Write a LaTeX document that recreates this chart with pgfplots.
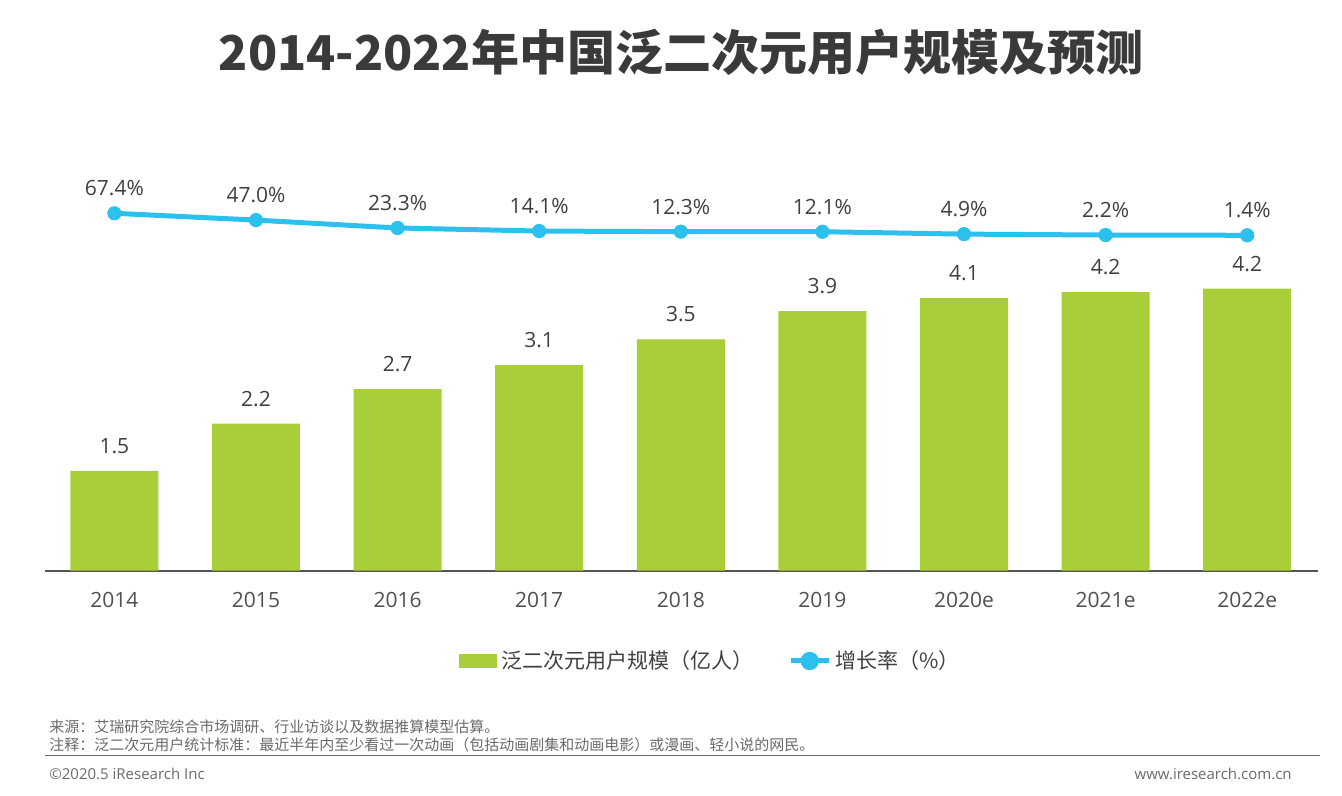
\documentclass[border=0pt]{standalone}
\usepackage{fontspec}
\setmainfont{Open Sans}
\newfontfamily\cjk{Noto Sans CJK SC}
\usepackage{pgfplots}
\usepackage{pgfplotstable}
\pgfplotsset{compat=1.18}
\definecolor{barg}{HTML}{A9CF38}
\definecolor{lineblue}{HTML}{2CC0EE}
\definecolor{titlec}{HTML}{3A3A3A}
\definecolor{labc}{HTML}{404040}
\definecolor{tickc}{HTML}{505050}
\definecolor{axisc}{HTML}{555555}
\definecolor{footc}{HTML}{6A6A6A}

\pgfplotstableread{
x val lab
0 1.50 1.5
1 2.21 2.2
2 2.73 2.7
3 3.09 3.1
4 3.48 3.5
5 3.905 3.9
6 4.10 4.1
7 4.19 4.2
8 4.24 4.2
}\users

\pgfplotstableread{
x g
0 67.4
1 47.0
2 23.3
3 14.1
4 12.3
5 12.1
6 4.9
7 2.2
8 1.4
}\growth

\begin{document}
\begin{tikzpicture}
\path[use as bounding box] (0,0) rectangle (671pt,398pt);

\node[text=titlec, font=\fontsize{24}{29}\selectfont\cjk\bfseries] at (340.5pt,372pt) {2014-2022年中国泛二次元用户规模及预测};

\begin{axis}[
  at={(22.5pt,112.65pt)}, anchor=south west,
  scale only axis, width=636.5pt, height=200pt,
  xmin=-0.49, xmax=8.5, ymin=0, ymax=6.015,
  axis x line*=bottom, axis y line=none,
  x axis line style={draw=axisc, line width=1.1pt, -},
  xtick={0,1,2,3,4,5,6,7,8},
  xticklabels={2014,2015,2016,2017,2018,2019,2020e,2021e,2022e},
  major tick length=0pt,
  xticklabel style={font=\fontsize{10.5}{12}\selectfont, text=tickc, yshift=-7.5pt},
  /pgf/number format/assume math mode=true,
  ybar, bar width=44pt,
  clip=false,
]
\addplot[fill=barg, draw=none,
  point meta=explicit,
  nodes near coords={\pgfmathprintnumber[fixed,fixed zerofill,precision=1,assume math mode=true]{\pgfplotspointmeta}},
  every node near coord/.append style={font=\fontsize{10.5}{12}\selectfont, text=labc, yshift=5pt}]
  table[x=x,y=val,meta=lab]{\users};
\end{axis}

\begin{axis}[
  at={(22.5pt,112.65pt)}, anchor=south west,
  scale only axis, width=636.5pt, height=200pt,
  xmin=-0.49, xmax=8.5, ymin=-1004.8, ymax=195.2,
  hide axis, clip=false,
  /pgf/number format/assume math mode=true,
  legend style={at={(204pt,-45.15pt)}, anchor=west, draw=none, fill=none,
    legend columns=2, font=\fontsize{10.5}{12}\selectfont\cjk, text=labc,
    /tikz/every even column/.append style={column sep=15.5pt}},
  legend cell align=left,
]
\addlegendimage{legend image code/.code={\fill[barg] (0pt,-3.25pt) rectangle (18.5pt,3.25pt);}}
\addlegendentry{泛二次元用户规模（亿人）}
\addplot[color=lineblue, line width=2.5pt, mark=*, mark size=3.3pt,
  mark options={fill=lineblue, draw=lineblue, line width=0.5pt},
  point meta=explicit,
  nodes near coords={\pgfmathprintnumber[fixed,fixed zerofill,precision=1,assume math mode=true]{\pgfplotspointmeta}\%},
  every node near coord/.append style={font=\fontsize{10.5}{12}\selectfont, text=labc, yshift=5pt},
  legend image code/.code={\draw[lineblue,line width=2.5pt] (0pt,0pt) -- (19pt,0pt); \fill[lineblue] (9.5pt,0pt) circle (3.3pt);}]
  table[x=x,y=g,meta=g]{\growth};
\addlegendentry{增长率（\%）}
\end{axis}

\node[anchor=west, text=footc, font=\fontsize{7.5}{9}\selectfont\cjk, inner sep=0pt] at (24.5pt,34.5pt) {来源：艾瑞研究院综合市场调研、行业访谈以及数据推算模型估算。};
\node[anchor=west, text=footc, font=\fontsize{7.5}{9}\selectfont\cjk, inner sep=0pt] at (24.5pt,25.5pt) {注释：泛二次元用户统计标准：最近半年内至少看过一次动画（包括动画剧集和动画电影）或漫画、轻小说的网民。};
\draw[footc, line width=0.8pt] (22.5pt,20.15pt) -- (660pt,20.15pt);
\node[anchor=west, text=footc, font=\fontsize{7.5}{9}\selectfont, inner sep=0pt] at (24.5pt,11pt) {©2020.5 iResearch Inc};
\node[anchor=east, text=footc, font=\fontsize{7.5}{9}\selectfont, inner sep=0pt] at (646pt,11pt) {www.iresearch.com.cn};
\end{tikzpicture}
\end{document}
